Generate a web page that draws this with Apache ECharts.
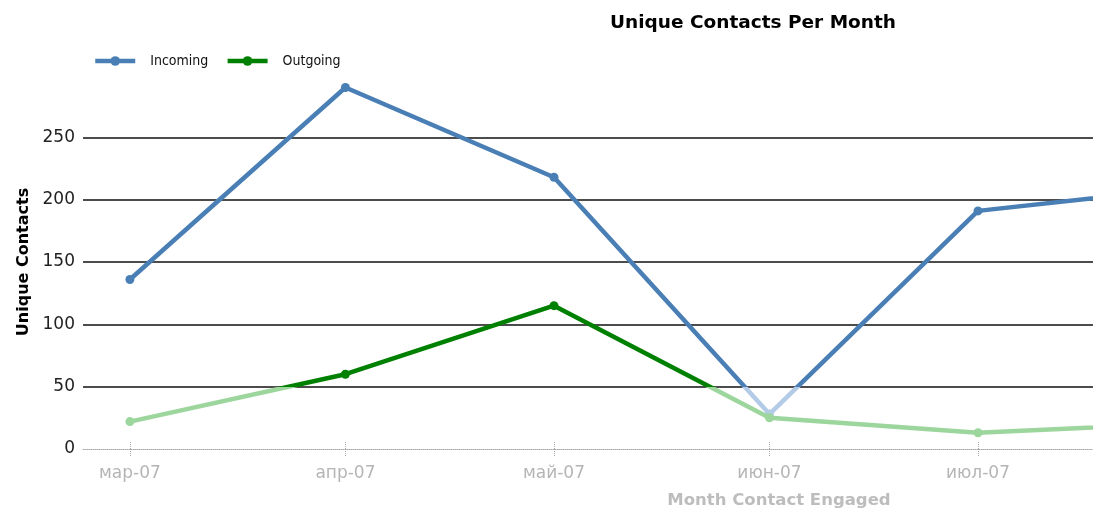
<!DOCTYPE html>
<html>
<head>
<meta charset="utf-8">
<script src="https://cdn.jsdelivr.net/npm/echarts@6/dist/echarts.min.js"></script>
<style>html,body{margin:0;padding:0;background:#fff;}#c{width:1093px;height:513px;}</style>
</head>
<body>
<div id="c"></div>
<script>
// Data
const months = ['мар-07', 'апр-07', 'май-07', 'июн-07', 'июл-07', 'авг-07'];
const monthDates = ['2007-03-01', '2007-04-01', '2007-05-01', '2007-06-01', '2007-07-01', '2007-08-01'];
const incoming = [136, 290, 218, 28, 191, 210];
const outgoing = [22, 60, 115, 25, 13, 21];
const seriesNames = ['Incoming', 'Outgoing'];
const axisStart = '2007-02-22T06:00:00Z';
const axisEnd = '2007-07-17T13:00:00Z';

// x positions as days since the first month (a linear date scale)
const ts = d => Date.parse(d.length === 10 ? d + 'T00:00:00Z' : d);
const day = d => (ts(d) - ts(monthDates[0])) / 86400000;
const monthDays = monthDates.map(day);
const tickDays = monthDays.slice(0, 5);
const toPairs = arr => arr.map((v, i) => [monthDays[i], v]);
const labelFor = v => { const i = monthDays.findIndex(m => Math.abs(m - v) < 0.01); return i >= 0 ? months[i] : ''; };

const chart = echarts.init(document.getElementById('c'));
chart.setOption({
  animation: false,
  backgroundColor: '#ffffff',
  title: [
    {
      text: 'Unique Contacts Per Month',
      left: 748, top: 9, textAlign: 'center',
      textStyle: { fontFamily: 'DejaVu Sans', fontWeight: 'bold', fontSize: 18.5, color: '#000' }
    },
    {
      text: 'Month Contact Engaged',
      left: 774, top: 487, textAlign: 'center',
      textStyle: { fontFamily: 'DejaVu Sans', fontWeight: 'bold', fontSize: 16.5, color: '#bdbdbd' }
    }
  ],
  legend: {
    data: seriesNames,
    left: 88, top: 49,
    itemWidth: 40, itemHeight: 12, itemGap: 17,
    lineStyle: { width: 4.5 },
    textStyle: { fontFamily: 'DejaVu Sans Condensed', fontSize: 14, color: '#111', padding: [0, 0, 0, 10] }
  },
  grid: { left: 83, right: 0, top: 75, bottom: 64, containLabel: false },
  visualMap: [
    { type: 'piecewise', show: false, seriesIndex: 0, dimension: 1,
      pieces: [{ gte: -1000, lt: 50, color: '#b3cbe6' }, { gte: 50, lte: 1000, color: '#4a7fb6' }] },
    { type: 'piecewise', show: false, seriesIndex: 1, dimension: 1,
      pieces: [{ gte: -1000, lt: 50, color: '#9cd69c' }, { gte: 50, lte: 1000, color: '#008000' }] }
  ],
  xAxis: [
    {
      type: 'value', position: 'bottom', min: day(axisStart), max: day(axisEnd),
      splitLine: { show: false },
      axisLine: { show: true, lineStyle: { color: '#a8a8a8', type: 'dotted', width: 1 } },
      axisTick: { show: true, inside: false, length: 7, customValues: tickDays, lineStyle: { color: '#a8a8a8', type: 'dotted' } },
      axisLabel: {
        customValues: tickDays, margin: 16,
        formatter: v => labelFor(v),
        fontFamily: 'DejaVu Sans', fontSize: 17, color: '#b5b5b5'
      }
    },
    {
      type: 'value', position: 'bottom', min: day(axisStart), max: day(axisEnd),
      splitLine: { show: false },
      axisLine: { show: false },
      axisTick: { show: true, inside: true, length: 7, customValues: tickDays, lineStyle: { color: '#a8a8a8', type: 'dotted' } },
      axisLabel: { show: false }
    }
  ],
  yAxis: {
    type: 'value', min: 0, max: 300, interval: 50,
    name: 'Unique Contacts', nameLocation: 'middle', nameGap: 50,
    nameTextStyle: { fontFamily: 'DejaVu Sans', fontWeight: 'bold', fontSize: 16, color: '#000' },
    axisLine: { show: false },
    axisTick: { show: false },
    axisLabel: {
      showMaxLabel: false, margin: 8,
      fontFamily: 'DejaVu Sans', fontSize: 17,
      color: v => (v === 0 ? '#bdbdbd' : '#222')
    },
    splitLine: { show: true, showMinLine: false, showMaxLine: false, lineStyle: { color: '#111', width: 1.6 } }
  },
  series: [
    {
      name: seriesNames[0], type: 'line', data: toPairs(incoming),
      symbol: 'circle', symbolSize: 9, clip: true,
      lineStyle: { width: 4.5 }, itemStyle: { color: '#4a7fb6' }, z: 3
    },
    {
      name: seriesNames[1], type: 'line', data: toPairs(outgoing),
      symbol: 'circle', symbolSize: 9, clip: true,
      lineStyle: { width: 4.5 }, itemStyle: { color: '#008000' }, z: 4
    }
  ]
});
</script>
</body>
</html>
